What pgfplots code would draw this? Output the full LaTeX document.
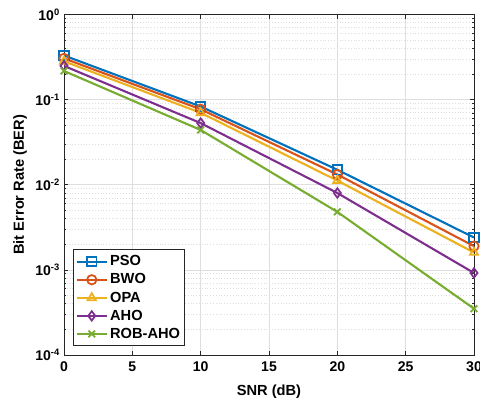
\documentclass[border=0pt]{standalone}
\usepackage{fontspec}
\setmainfont{Liberation Sans}
\usepackage{pgfplots}
\pgfplotsset{compat=1.18}

\definecolor{mblue}{rgb}{0,0.447,0.741}
\definecolor{morange}{rgb}{0.85,0.325,0.098}
\definecolor{myellow}{rgb}{0.929,0.694,0.125}
\definecolor{mpurple}{rgb}{0.494,0.184,0.556}
\definecolor{mgreen}{rgb}{0.466,0.674,0.188}
\definecolor{gridc}{RGB}{222,222,222}
\definecolor{axc}{RGB}{38,38,38}

\begin{document}
\begin{tikzpicture}
\begin{axis}[
    name=ax,
    scale only axis,
    width=12.3cm, height=10.215cm,
    ymode=log,
    xmin=0, xmax=30, ymin=1e-4, ymax=1,
    xtick={0,5,...,30},
    ytick={1e-4,1e-3,1e-2,1e-1,1},
    yticklabels={10\textsuperscript{-4},10\textsuperscript{-3},10\textsuperscript{-2},10\textsuperscript{-1},10\textsuperscript{0}},
    /pgf/number format/assume math mode=true,
    tick label style={font=\fontsize{12}{14}\selectfont\bfseries, text=black},
    xticklabel style={yshift=-2pt},
    label style={font=\fontsize{12.5}{15}\selectfont\bfseries},
    xlabel={SNR (dB)},
    ylabel={Bit Error Rate (BER)},
    xlabel style={at={(axis description cs:0.5,-0.108)}, anchor=center},
    ylabel style={at={(axis description cs:-0.107,0.5)}, anchor=center},
    axis line style={axc, line width=0.6pt},
    tick style={axc, line width=0.5pt},
    tick align=inside,
    major tick length=0.13cm,
    minor tick length=0.07cm,
    xtick pos=both, ytick pos=both,
    grid=both,
    major grid style={gridc, line width=0.5pt},
    minor grid style={gridc, dotted, line width=0.6pt},
    minor x tick num=0,
    every axis plot/.append style={line width=1.8pt, mark size=4pt, mark options={solid, line width=1.5pt}},
    legend style={at={(rel axis cs:0.022,0.026)}, anchor=south west, draw=axc, line width=0.6pt,
        font=\fontsize{12.5}{14}\selectfont\bfseries, row sep=1.2pt, inner xsep=2pt, inner ysep=3pt},
    legend cell align=left,
    legend image code/.code={\draw[mark repeat=2, mark phase=2, #1] plot coordinates {(0cm,0cm) (0.45cm,0cm) (0.9cm,0cm)};},
]
\addplot[mblue, mark=square] coordinates {(0,0.330) (10,0.083) (20,0.0150) (30,0.0024)};
\addlegendentry{PSO}
\addplot[morange, mark=o] coordinates {(0,0.305) (10,0.077) (20,0.0132) (30,0.0019)};
\addlegendentry{BWO}
\addplot[myellow, mark=triangle] coordinates {(0,0.282) (10,0.070) (20,0.0112) (30,0.0016)};
\addlegendentry{OPA}
\addplot[mpurple, mark=diamond] coordinates {(0,0.249) (10,0.053) (20,0.0080) (30,0.00092)};
\addlegendentry{AHO}
\addplot[mgreen, mark=x] coordinates {(0,0.217) (10,0.044) (20,0.0048) (30,0.00035)};
\addlegendentry{ROB-AHO}
\end{axis}
\pgfresetboundingbox
\path[use as bounding box] ([shift={(-1.92cm,-1.44cm)}]ax.south west) rectangle ([shift={(0.18cm,0.435cm)}]ax.north east);
\end{tikzpicture}
\end{document}
